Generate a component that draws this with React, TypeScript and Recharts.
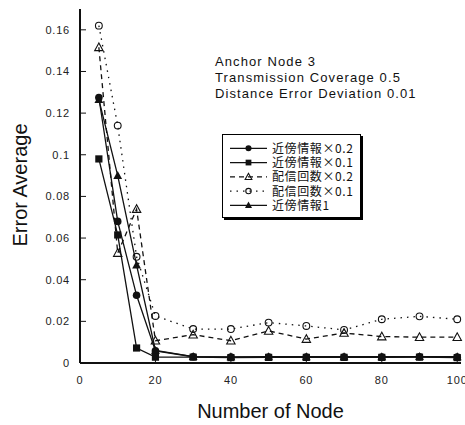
import React from "react";
import { LineChart, Line, XAxis, YAxis, Legend } from "recharts";

// number of nodes on the x axis
const nodeCounts = [5, 10, 15, 20, 30, 40, 50, 60, 70, 80, 90, 100];

// error averages
const neighbor02 = [0.1275, 0.068, 0.0325, 0.0058, 0.003, 0.0028, 0.0028, 0.0029, 0.0029, 0.0029, 0.003, 0.0028];
const neighbor01 = [0.098, 0.0615, 0.0072, 0.0028, 0.0028, 0.0026, 0.0027, 0.0027, 0.0027, 0.0027, 0.0028, 0.0026];
const delivery02 = [0.1516, 0.0528, 0.0739, 0.0107, 0.0136, 0.0107, 0.0154, 0.0115, 0.0144, 0.0127, 0.0124, 0.0124];
const delivery01 = [0.162, 0.114, 0.051, 0.0226, 0.0163, 0.0163, 0.0194, 0.0178, 0.0159, 0.021, 0.0224, 0.021];
const neighbor1 = [0.1265, 0.09, 0.047, 0.006, 0.0031, 0.0029, 0.003, 0.003, 0.003, 0.003, 0.0031, 0.003];

const seriesNames = ["近傍情報×0.2", "近傍情報×0.1", "配信回数×0.2", "配信回数×0.1", "近傍情報1"];

const xTicks = [0, 20, 40, 60, 80, 100];
const yTicks = [0, 0.02, 0.04, 0.06, 0.08, 0.1, 0.12, 0.14, 0.16];

const annotation = ["Anchor Node 3", "Transmission Coverage 0.5", "Distance Error Deviation 0.01"];

const tableData = nodeCounts.map((n, i) => ({
  n,
  n02: neighbor02[i],
  n01: neighbor01[i],
  d02: delivery02[i],
  d01: delivery01[i],
  n1: neighbor1[i],
}));

type Shape = "circle" | "square" | "openTriangle" | "openCircle" | "triangle";

const seriesStyle: { key: string; shape: Shape; dash?: string }[] = [
  { key: "n02", shape: "circle" },
  { key: "n01", shape: "square" },
  { key: "d02", shape: "openTriangle", dash: "5 4" },
  { key: "d01", shape: "openCircle", dash: "1.5 5" },
  { key: "n1", shape: "triangle" },
];

const drawOrder = [3, 2, 4, 0, 1];

const INK = "#111";
const SANS = "'Liberation Sans', Arial, Helvetica, sans-serif";

function Marker({ shape, cx, cy, s = 1 }: { shape: Shape; cx: number; cy: number; s?: number }) {
  if (cx == null || cy == null) return null;
  switch (shape) {
    case "circle":
      return <circle cx={cx} cy={cy} r={3.8 * s} fill={INK} />;
    case "square":
      return <rect x={cx - 3.6 * s} y={cy - 3.6 * s} width={7.2 * s} height={7.2 * s} fill={INK} />;
    case "triangle":
      return (
        <polygon
          points={`${cx},${cy - 4.6 * s} ${cx - 4.4 * s},${cy + 3.4 * s} ${cx + 4.4 * s},${cy + 3.4 * s}`}
          fill={INK}
        />
      );
    case "openTriangle":
      return (
        <polygon
          points={`${cx},${cy - 4.4 * s} ${cx - 4.2 * s},${cy + 3.3 * s} ${cx + 4.2 * s},${cy + 3.3 * s}`}
          fill="none"
          stroke={INK}
          strokeWidth={1.1}
        />
      );
    case "openCircle":
      return <circle cx={cx} cy={cy} r={3.4 * s} fill="none" stroke={INK} strokeWidth={1.1} />;
  }
  return null;
}

function BottomTick(props: any) {
  const { x, y, payload } = props;
  return (
    <g>
      <line x1={x} y1={y} x2={x} y2={y - 6} stroke={INK} strokeWidth={1} />
      <text x={x} y={y + 21} textAnchor="middle" fontSize={11} letterSpacing={0.8} fill="#222" fontFamily={SANS}>
        {payload.value}
      </text>
    </g>
  );
}

function TopTick(props: any) {
  const { x, y } = props;
  return <line x1={x} y1={y} x2={x} y2={y + 6} stroke={INK} strokeWidth={1} />;
}

function LeftTick(props: any) {
  const { x, y, payload } = props;
  return (
    <g>
      <line x1={x} y1={y} x2={x + 6} y2={y} stroke={INK} strokeWidth={1} />
      <text x={x - 10} y={y + 4} textAnchor="end" fontSize={11} letterSpacing={0.8} fill="#222" fontFamily={SANS}>
        {payload.value}
      </text>
    </g>
  );
}

function RightTick(props: any) {
  const { x, y } = props;
  return <line x1={x} y1={y} x2={x - 6} y2={y} stroke={INK} strokeWidth={1} />;
}

function YTitle() {
  return (
    <text
      x={27}
      y={185}
      transform="rotate(-90, 27, 185)"
      textAnchor="middle"
      fontSize={20}
      fill={INK}
      fontFamily={SANS}
    >
      Error Average
    </text>
  );
}

function LegendBox() {
  return (
    <div
      style={{
        width: 139,
        height: 84,
        boxSizing: "border-box",
        border: "1px solid #000",
        boxShadow: "2px 2px 0 #000",
        background: "#fff",
      }}
    >
      <svg width={137} height={82}>
        {seriesNames.map((name, i) => {
          const st = seriesStyle[i];
          const y = 13.3 + i * 14.25;
          return (
            <g key={name}>
              <line x1={7} y1={y} x2={44} y2={y} stroke={INK} strokeWidth={1.3} strokeDasharray={st.dash} />
              <Marker shape={st.shape} cx={25.5} cy={y} s={0.8} />
              <text
                x={49}
                y={y + 4.5}
                fontSize={12}
                letterSpacing={0.6}
                fill={INK}
                fontFamily="'Noto Sans CJK JP', 'Noto Sans', sans-serif"
              >
                {name}
              </text>
            </g>
          );
        })}
      </svg>
    </div>
  );
}

export default function App() {
  return (
    <div style={{ position: "absolute", left: 0, top: 0, width: 465, height: 425, background: "#fff" }}>
      <LineChart width={465} height={425} data={tableData} margin={{ top: 9, right: 4, bottom: 0, left: 0 }}>
        <XAxis
          dataKey="n"
          type="number"
          domain={[0, 101]}
          ticks={xTicks}
          interval={0}
          height={62}
          axisLine={{ stroke: INK, strokeWidth: 2 }}
          tickLine={false}
          tickSize={0}
          tickMargin={0}
          tick={BottomTick}
          label={{ value: "Number of Node", position: "insideBottom", offset: 7, fontSize: 20, fill: INK, fontFamily: SANS }}
        />
        <XAxis
          xAxisId="top"
          orientation="top"
          type="number"
          domain={[0, 101]}
          ticks={xTicks}
          interval={0}
          height={0}
          axisLine={{ stroke: INK, strokeWidth: 1 }}
          tickLine={false}
          tickSize={0}
          tickMargin={0}
          tick={TopTick}
        />
        <YAxis
          type="number"
          domain={[0, 0.17]}
          ticks={yTicks}
          interval={0}
          width={80}
          axisLine={{ stroke: INK, strokeWidth: 2 }}
          tickLine={false}
          tickSize={0}
          tickMargin={0}
          tick={LeftTick}
          label={<YTitle />}
        />
        <YAxis
          yAxisId="right"
          orientation="right"
          type="number"
          domain={[0, 0.17]}
          ticks={yTicks}
          interval={0}
          width={0}
          axisLine={{ stroke: INK, strokeWidth: 1 }}
          tickLine={false}
          tickSize={0}
          tickMargin={0}
          tick={RightTick}
        />
        <Legend
          layout="vertical"
          align="center"
          verticalAlign="middle"
          content={() => <LegendBox />}
          wrapperStyle={{ left: 222, top: 134, width: 141, height: 86 }}
        />
        {drawOrder.map((i) => {
          const st = seriesStyle[i];
          return (
            <Line
              key={st.key}
              dataKey={st.key}
              name={seriesNames[i]}
              type="linear"
              stroke={INK}
              strokeWidth={1.3}
              strokeDasharray={st.dash}
              dot={(p: any) => <Marker key={`${st.key}-${p.index}`} shape={st.shape} cx={p.cx} cy={p.cy} />}
              activeDot={false}
              isAnimationActive={false}
            />
          );
        })}
      </LineChart>
      <div
        style={{
          position: "absolute",
          left: 215,
          top: 54,
          fontFamily: SANS,
          fontSize: 13,
          lineHeight: "16px",
          letterSpacing: 1.1,
          color: INK,
          whiteSpace: "nowrap",
        }}
      >
        {annotation.map((t) => (
          <div key={t}>{t}</div>
        ))}
      </div>
    </div>
  );
}
